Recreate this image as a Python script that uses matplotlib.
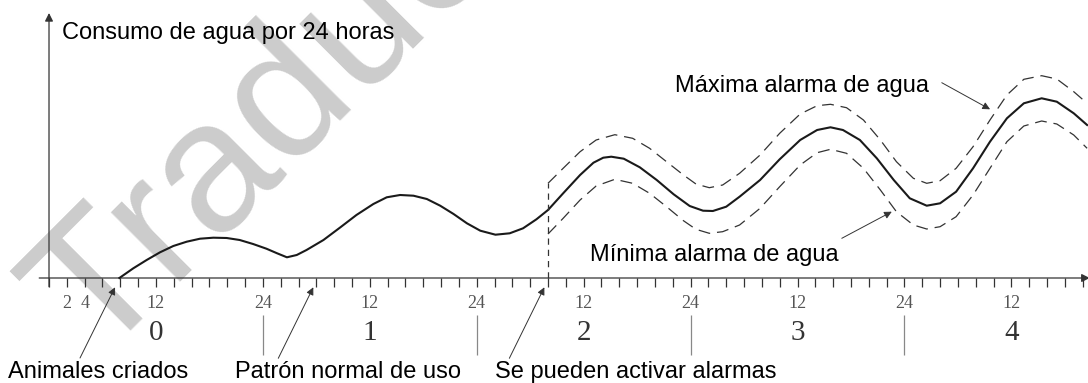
# Consumo de agua por 24 horas - alarmas de agua
import numpy as np
import matplotlib.pyplot as plt

plt.rcParams["font.family"] = ["Liberation Sans", "DejaVu Sans"]

# Data (hours since start, relative consumption)
horas = [7.9, 9.46, 10.96, 12.46, 13.95, 15.45, 16.95, 18.44, 19.94, 21.4, 22.9,
         24.4, 25.6, 26.7, 27.8, 28.9, 30.8, 32.7, 34.5, 36.4, 37.9, 39.4,
         40.9, 42.4, 43.9, 45.4, 46.9, 48.4, 50.1, 51.7, 53.2, 54.7, 56.0,
         57.7, 59.6, 61.1, 62.2, 63.1, 64.5, 66.3, 68.2, 70.1, 71.9, 73.4,
         74.5, 76.0, 77.5, 79.8, 82.0, 84.3, 86.2, 87.7, 89.1, 91.0, 92.9,
         94.8, 96.6, 98.5, 100.0, 101.8, 103.7, 105.6, 107.5, 109.4, 111.4,
         113.1, 115.0, 116.5]
consumo = [0, 0.97, 1.8, 2.57, 3.2, 3.63, 3.93, 4.03, 4.0, 3.8, 3.4,
           2.93, 2.47, 2.07, 2.3, 2.8, 3.8, 5.07, 6.3, 7.4, 8.07, 8.3,
           8.23, 7.9, 7.23, 6.4, 5.47, 4.73, 4.33, 4.47, 4.97, 5.87, 6.8,
           8.47, 10.3, 11.53, 12.03, 12.13, 11.93, 11.07, 9.8, 8.37, 7.2, 6.73,
           6.7, 7.13, 8.13, 9.8, 11.87, 13.8, 14.8, 15.07, 14.8, 13.8, 11.97,
           9.8, 7.97, 7.23, 7.47, 8.63, 10.97, 13.63, 15.97, 17.47, 17.97,
           17.63, 16.47, 15.3]

horas_max = [56.0, 57.7, 59.6, 61.4, 63.5, 65.5, 67.4, 69.3, 71.2, 72.6, 74.1,
             75.6, 77.5, 79.8, 82.0, 84.3, 86.2, 87.7, 89.5, 91.4, 93.3, 95.1,
             97.0, 98.5, 100.0, 101.8, 103.7, 105.6, 107.5, 109.4, 111.4,
             113.1, 115.0, 116.5]
alarma_max = [9.47, 10.97, 12.63, 13.8, 14.33, 13.97, 12.97, 11.63, 10.3, 9.4, 9.03,
              9.3, 10.47, 12.3, 14.47, 16.4, 17.23, 17.37, 17.03, 15.8, 13.8, 11.63,
              9.97, 9.47, 9.73, 10.97, 13.13, 15.8, 18.3, 19.87, 20.23,
              19.9, 18.63, 17.47]

horas_min = [56.0, 57.7, 59.6, 61.4, 63.5, 65.5, 67.4, 69.3, 71.2, 72.6, 74.1,
             75.6, 77.5, 79.8, 82.0, 84.3, 86.2, 87.7, 89.5, 91.4, 93.3, 95.1,
             97.0, 98.5, 100.0, 101.8, 103.7, 105.6, 107.5, 109.4, 111.4,
             113.1, 115.0, 116.5]
alarma_min = [4.4, 5.97, 7.8, 9.2, 9.87, 9.47, 8.47, 7.13, 5.73, 4.87, 4.47,
              4.63, 5.3, 6.97, 9.13, 11.3, 12.53, 12.87, 12.47, 10.97, 8.8, 6.63,
              5.3, 4.9, 5.13, 6.13, 8.3, 10.97, 13.63, 15.2, 15.7,
              15.4, 14.3, 12.97]

inicio_alarmas = 56.0
hora_ticks = np.arange(0, 117, 2)
hora_labels = {2: "2", 4: "4", 12: "12", 24: "24", 36: "12", 48: "24",
               60: "12", 72: "24", 84: "12", 96: "24", 108: "12"}
dias = ["0", "1", "2", "3", "4"]
dia_centros = [12, 36, 60, 84, 108]
dia_limites = [24, 48, 72, 96]


# Plot
fig = plt.figure(figsize=(10.88, 3.83), dpi=100)
ax = fig.add_axes([0, 0, 1, 1])
ax.set_xlim(-5.5, 116.6)
ax.set_ylim(-10.5, 27.8)
ax.axis("off")

# watermark
ax.text(5.27, -8.4, "Traducción", fontsize=133, color="#cccccc",
        rotation=45, rotation_mode="anchor", ha="left", va="baseline", zorder=0)

# axes with arrows
ax.annotate("", xy=(0, 26.5), xytext=(0, -0.87), annotation_clip=False,
            arrowprops=dict(arrowstyle="-|>", lw=0.9, color="#333333",
                            mutation_scale=12, shrinkA=0, shrinkB=0))
ax.annotate("", xy=(116.8, 0), xytext=(-1.1, 0), annotation_clip=False,
            arrowprops=dict(arrowstyle="-|>", lw=0.9, color="#333333",
                            mutation_scale=12, shrinkA=0, shrinkB=0))

# hour ticks and labels
ax.vlines(hora_ticks, -0.85, 0, color="#333333", lw=0.9)
for h, lab in hora_labels.items():
    ax.text(h, -2.6, lab, family="Liberation Serif", fontsize=13,
            color="#555555", ha="center", va="center")
for c, d in zip(dia_centros, dias):
    ax.text(c, -5.5, d, family="Liberation Serif", fontsize=21,
            color="#333333", ha="center", va="center")
ax.vlines(dia_limites, -7.7, -3.7, color="#888888", lw=0.9)

# curves
ax.plot(horas, consumo, color="#1a1a1a", lw=1.5, solid_joinstyle="round", zorder=3)
ax.plot(horas_max, alarma_max, color="#333333", lw=0.9,
        linestyle=(0, (9.5, 5.5)), zorder=3)
ax.plot(horas_min, alarma_min, color="#333333", lw=0.9,
        linestyle=(0, (9.5, 5.5)), zorder=3)
ax.plot([inicio_alarmas, inicio_alarmas], [0, alarma_max[0]], color="#333333",
        lw=0.9, linestyle=(0, (5, 4)), zorder=3)

# texts
ax.text(1.46, 23.87, "Consumo de agua por 24 horas", fontsize=17,
        ha="left", va="baseline")
ax.text(70.26, 18.63, "Máxima alarma de agua", fontsize=17,
        ha="left", va="baseline")
ax.text(60.72, 1.7, "Mínima alarma de agua", fontsize=17,
        ha="left", va="baseline")

arrow_kw = dict(arrowstyle="-|>", lw=0.7, color="#333333",
                mutation_scale=11, shrinkA=0, shrinkB=0)
ax.annotate("", xy=(105.61, 16.87), xytext=(100.19, 19.53), arrowprops=arrow_kw)
ax.annotate("", xy=(94.58, 6.63), xytext=(88.97, 3.97), arrowprops=arrow_kw)

notas = [("Animales criados", -4.57, (3.48, -8.0), (7.41, -0.93)),
         ("Patrón normal de uso", 20.9, (25.73, -8.03), (29.66, -0.93)),
         ("Se pueden activar alarmas", 50.06, (51.66, -8.03), (55.59, -0.93))]
for txt, x0, start, end in notas:
    ax.text(x0, -10.0, txt, fontsize=17, ha="left", va="baseline")
    ax.annotate("", xy=end, xytext=start, arrowprops=arrow_kw)

plt.savefig("out.png", dpi=100)
